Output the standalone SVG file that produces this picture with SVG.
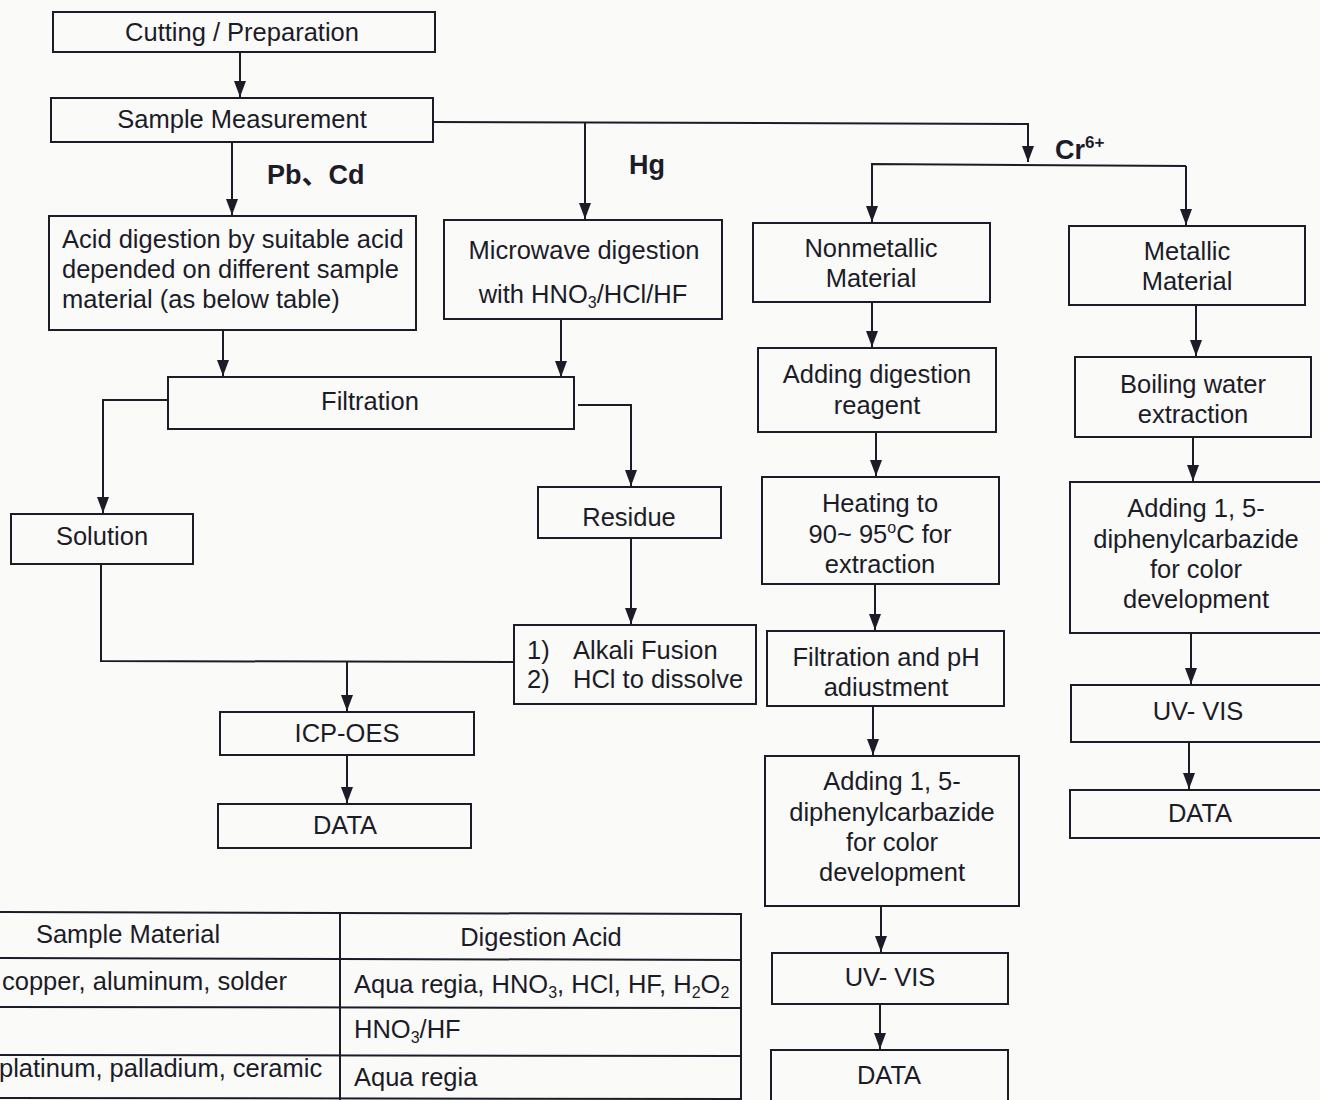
<svg xmlns="http://www.w3.org/2000/svg" width="1320" height="1100" viewBox="0 0 1320 1100">
<defs>
<marker id="ah" viewBox="0 0 16 12" refX="16" refY="6" markerWidth="16" markerHeight="12" orient="auto" markerUnits="userSpaceOnUse">
<path d="M0,0 L16,6 L0,12 z" fill="#1c1c28"/>
</marker>
<style>
rect.b{fill:none;stroke:#1c1c28;stroke-width:2}
text{font-family:"Liberation Sans","Noto Sans CJK SC",Arial,sans-serif;font-size:25.5px;fill:#1c1c28}
text.c{text-anchor:middle}
text.lbl{font-weight:bold;font-size:27px}
.cn path,.cn line,.cn polyline{fill:none;stroke:#1c1c28;stroke-width:2}
.arr{marker-end:url(#ah)}
.tbl line{stroke:#1c1c28;stroke-width:2}
</style>
</defs>
<rect width="1320" height="1100" fill="#fafaf8"/>

<g id="connectors" class="cn">
<line class="arr" x1="240" y1="52" x2="240" y2="97"/>
<line class="arr" x1="232" y1="142" x2="232" y2="215"/>
<polyline class="arr" points="433,122 1028,124 1028,162"/>
<line class="arr" x1="585" y1="122" x2="585" y2="219"/>
<polyline points="872,218 872,164 1186,166"/>
<line class="arr" x1="872" y1="166" x2="872" y2="222"/>
<polyline class="arr" points="1186,166 1186,225"/>
<line class="arr" x1="223" y1="330" x2="223" y2="376"/>
<line class="arr" x1="561" y1="319" x2="561" y2="377"/>
<polyline class="arr" points="168,400 103,400 103,513"/>
<polyline class="arr" points="578,405 631,405 631,486"/>
<line class="arr" x1="631" y1="538" x2="631" y2="624"/>
<polyline points="101,564 101,661 514,662"/>
<line class="arr" x1="347" y1="662" x2="347" y2="711"/>
<line class="arr" x1="347" y1="755" x2="347" y2="803"/>
<line class="arr" x1="872" y1="302" x2="872" y2="347"/>
<line class="arr" x1="876" y1="432" x2="876" y2="476"/>
<line class="arr" x1="875" y1="584" x2="875" y2="630"/>
<line class="arr" x1="873" y1="706" x2="873" y2="755"/>
<line class="arr" x1="881" y1="906" x2="881" y2="952"/>
<line class="arr" x1="880" y1="1004" x2="880" y2="1049"/>
<line class="arr" x1="1196" y1="305" x2="1196" y2="356"/>
<line class="arr" x1="1193" y1="437" x2="1193" y2="481"/>
<line class="arr" x1="1191" y1="633" x2="1191" y2="684"/>
<line class="arr" x1="1189" y1="742" x2="1189" y2="789"/>
</g>

<g id="labels">
<text class="lbl" x="267" y="184">Pb、Cd</text>
<text class="lbl" x="629" y="174">Hg</text>
<text class="lbl" x="1055" y="159">Cr<tspan font-size="17" dy="-11">6+</tspan></text>
</g>

<g id="n-cutting"><rect class="b" x="53" y="12" width="382" height="40"/><text class="c" x="242" y="41">Cutting / Preparation</text></g>
<g id="n-sample"><rect class="b" x="51" y="98" width="382" height="44"/><text class="c" x="242" y="128">Sample Measurement</text></g>
<g id="n-acid"><rect class="b" x="49" y="216" width="367" height="114"/>
<text x="62" y="248">Acid digestion by suitable acid</text>
<text x="62" y="278">depended on different sample</text>
<text x="62" y="308">material (as below table)</text></g>
<g id="n-microwave"><rect class="b" x="444" y="220" width="278" height="99"/>
<text class="c" x="584" y="259">Microwave digestion</text>
<text class="c" x="583" y="303">with HNO<tspan font-size="16" dy="5">3</tspan><tspan dy="-5">/HCl/HF</tspan></text></g>
<g id="n-nonmetal"><rect class="b" x="753" y="223" width="237" height="79"/>
<text class="c" x="871" y="257">Nonmetallic</text><text class="c" x="871" y="287">Material</text></g>
<g id="n-metal"><rect class="b" x="1069" y="226" width="236" height="79"/>
<text class="c" x="1187" y="260">Metallic</text><text class="c" x="1187" y="290">Material</text></g>
<g id="n-filtration"><rect class="b" x="168" y="377" width="406" height="52"/><text class="c" x="370" y="410">Filtration</text></g>
<g id="n-solution"><rect class="b" x="11" y="514" width="182" height="50"/><text class="c" x="102" y="545">Solution</text></g>
<g id="n-residue"><rect class="b" x="538" y="487" width="183" height="51"/><text class="c" x="629" y="526">Residue</text></g>
<g id="n-alkali"><rect class="b" x="514" y="625" width="242" height="79"/>
<text x="527" y="659">1)</text><text x="573" y="659">Alkali Fusion</text>
<text x="527" y="688">2)</text><text x="573" y="688">HCl to dissolve</text></g>
<g id="n-icp"><rect class="b" x="220" y="712" width="254" height="43"/><text class="c" x="347" y="742">ICP-OES</text></g>
<g id="n-data1"><rect class="b" x="218" y="804" width="253" height="44"/><text class="c" x="345" y="834">DATA</text></g>

<g id="n-addreagent"><rect class="b" x="758" y="348" width="238" height="84"/>
<text class="c" x="877" y="383">Adding digestion</text><text class="c" x="877" y="414">reagent</text></g>
<g id="n-heating"><rect class="b" x="762" y="477" width="237" height="107"/>
<text class="c" x="880" y="512">Heating to</text>
<text class="c" x="880" y="543">90~ 95<tspan font-size="16" dy="-10">o</tspan><tspan dy="10">C for</tspan></text>
<text class="c" x="880" y="573">extraction</text></g>
<g id="n-filtph"><rect class="b" x="767" y="631" width="237" height="75"/>
<text class="c" x="886" y="666">Filtration and pH</text><text class="c" x="886" y="696">adiustment</text></g>
<g id="n-dpc1"><rect class="b" x="765" y="756" width="254" height="150"/>
<text class="c" x="892" y="790">Adding 1, 5-</text>
<text class="c" x="892" y="821">diphenylcarbazide</text>
<text class="c" x="892" y="851">for color</text>
<text class="c" x="892" y="881">development</text></g>
<g id="n-uv1"><rect class="b" x="772" y="953" width="236" height="51"/><text class="c" x="890" y="986">UV- VIS</text></g>
<g id="n-data2"><rect class="b" x="771" y="1050" width="237" height="52"/><text class="c" x="889" y="1084">DATA</text></g>

<g id="n-boiling"><rect class="b" x="1075" y="357" width="236" height="80"/>
<text class="c" x="1193" y="393">Boiling water</text><text class="c" x="1193" y="423">extraction</text></g>
<g id="n-dpc2"><rect class="b" x="1070" y="482" width="256" height="151"/>
<text class="c" x="1196" y="517">Adding 1, 5-</text>
<text class="c" x="1196" y="548">diphenylcarbazide</text>
<text class="c" x="1196" y="578">for color</text>
<text class="c" x="1196" y="608">development</text></g>
<g id="n-uv2"><rect class="b" x="1071" y="685" width="255" height="57"/><text class="c" x="1198" y="720">UV- VIS</text></g>
<g id="n-data3"><rect class="b" x="1070" y="790" width="256" height="48"/><text class="c" x="1200" y="822">DATA</text></g>

<g id="table" class="tbl">
<line x1="0" y1="912" x2="741" y2="914"/>
<line x1="0" y1="958" x2="741" y2="960"/>
<line x1="0" y1="1007" x2="741" y2="1008"/>
<line x1="0" y1="1055" x2="741" y2="1056"/>
<line x1="0" y1="1098" x2="741" y2="1099"/>
<line x1="340" y1="912" x2="340" y2="1100"/>
<line x1="741" y1="913" x2="741" y2="1100"/>
<text class="c" x="128" y="943">Sample Material</text>
<text class="c" x="541" y="946">Digestion Acid</text>
<text x="2" y="990">copper, aluminum, solder</text>
<text x="354" y="993">Aqua regia, HNO<tspan font-size="16" dy="5">3</tspan><tspan dy="-5">, HCl, HF, H</tspan><tspan font-size="16" dy="5">2</tspan><tspan dy="-5">O</tspan><tspan font-size="16" dy="5">2</tspan></text>
<text x="354" y="1038">HNO<tspan font-size="16" dy="5">3</tspan><tspan dy="-5">/HF</tspan></text>
<text x="-1" y="1077">platinum, palladium, ceramic</text>
<text x="354" y="1086">Aqua regia</text>
</g>
</svg>
